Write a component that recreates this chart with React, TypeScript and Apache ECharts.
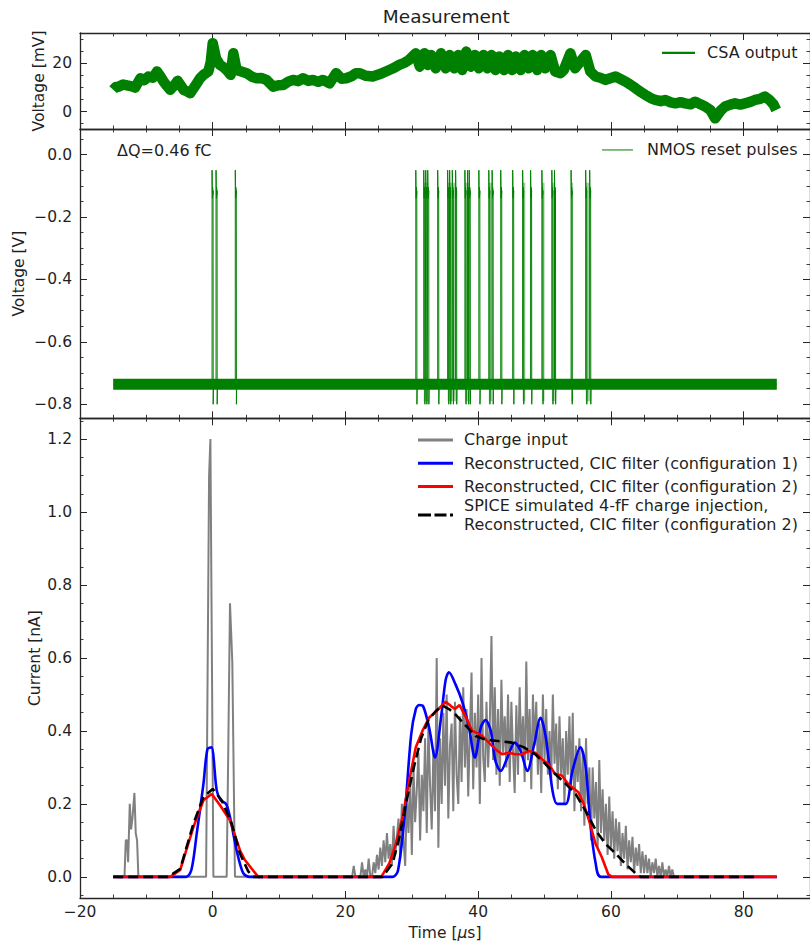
import React, { useEffect, useRef } from "react";
import * as echarts from "echarts";

const GREEN = "#008000";
const AXIS = "#262626";
const TEXT = "#1f1f1f";
const FONT = "DejaVu Sans";

// ---- tick values ----
const timeTicks = [-20, 0, 20, 40, 60, 80];
const timeMinorTicks = [-15, -10, -5, 5, 10, 15, 25, 30, 35, 45, 50, 55, 65, 70, 75, 85];
const csaTicks = [0, 20];
const csaMinorTicks = [-5, 5, 10, 15, 25, 30];
const nmosTicks = [0, -0.2, -0.4, -0.6, -0.8];
const nmosMinorTicks = [0.05, -0.05, -0.1, -0.15, -0.25, -0.3, -0.35, -0.45, -0.5, -0.55, -0.65, -0.7, -0.75];
const currentTicks = [0, 0.2, 0.4, 0.6, 0.8, 1.0, 1.2];
const currentMinorTicks = [-0.05, 0.05, 0.1, 0.15, 0.25, 0.3, 0.35, 0.45, 0.5, 0.55, 0.65, 0.7, 0.75, 0.85, 0.9, 0.95, 1.05, 1.1, 1.15, 1.25];

// ---- CSA output [time µs, mV] (centre of the noise band) ----
const csaOutput: [number, number][] = [
  [-15.0, 9.0], [-14.6, 10.2], [-14.2, 10.3], [-13.5, 11.2], [-12.9, 10.8], [-12.2, 10.4], [-11.7, 9.9],
  [-10.9, 13.8], [-10.3, 13.0], [-9.7, 14.5], [-9.0, 14.0], [-8.4, 16.6], [-7.9, 14.6], [-7.4, 12.4],
  [-6.9, 10.6], [-6.4, 9.0], [-5.8, 10.8], [-5.3, 12.7], [-4.8, 10.8], [-4.4, 9.0], [-3.9, 8.4],
  [-3.4, 7.6], [-2.9, 9.6], [-2.4, 11.7], [-1.9, 13.8], [-1.4, 15.2], [-0.66, 16.6], [-0.3, 20.5],
  [0.0, 28.3], [0.5, 22.0], [1.1, 19.3], [1.6, 18.4], [2.1, 17.2], [2.7, 15.2], [3.1, 24.1], [3.6, 17.2],
  [4.3, 16.6], [5.1, 15.9], [5.9, 14.4], [6.6, 13.8], [7.3, 13.9], [8.1, 13.1], [9.1, 10.3], [9.9, 10.9],
  [10.6, 11.0], [11.4, 12.4], [12.1, 13.1], [12.9, 12.6], [13.6, 13.8], [14.4, 12.7], [15.1, 13.1],
  [15.9, 12.3], [16.6, 13.1], [17.6, 11.7], [18.6, 15.9], [19.4, 13.6], [20.1, 13.8], [20.9, 14.6],
  [21.6, 15.9], [22.1, 15.9], [23.1, 14.8], [24.1, 14.5], [25.1, 15.4], [26.1, 16.6], [27.1, 17.8],
  [28.1, 19.3], [28.9, 20.2], [29.6, 21.4], [30.6, 24.1], [31.2, 18.6], [31.9, 24.1], [32.4, 19.3],
  [32.9, 23.4], [33.6, 17.9], [34.4, 24.1], [35.1, 17.9], [35.7, 23.4], [36.4, 17.9], [37.0, 23.4],
  [37.6, 17.2], [38.2, 24.8], [38.9, 18.6], [39.5, 23.4], [40.1, 17.9], [40.8, 23.4], [41.4, 17.9],
  [42.0, 23.4], [42.6, 17.2], [43.2, 22.8], [43.9, 17.2], [44.5, 23.4], [45.1, 17.2], [45.7, 22.8],
  [46.4, 17.2], [47.0, 23.4], [47.6, 17.9], [48.2, 23.4], [48.9, 17.2], [49.5, 23.4], [50.1, 17.9],
  [50.9, 23.4], [51.6, 16.6], [52.4, 15.9], [52.9, 17.2], [53.9, 24.1], [54.6, 17.9], [55.4, 20.7],
  [56.2, 23.4], [56.9, 16.6], [57.7, 14.5], [58.4, 14.0], [59.2, 13.1], [59.9, 13.8], [60.7, 14.5],
  [61.5, 13.4], [62.2, 12.4], [62.9, 11.2], [63.7, 9.7], [64.5, 8.1], [65.2, 6.9], [66.0, 5.6],
  [66.7, 4.8], [67.5, 4.3], [68.2, 4.8], [69.0, 3.8], [69.7, 3.4], [70.5, 3.9], [71.2, 3.4], [72.0, 3.0],
  [72.7, 4.1], [73.5, 3.0], [74.2, 2.1], [75.0, 0.6], [75.7, -2.8], [76.5, 0.3], [77.2, 2.1], [78.0, 2.9],
  [78.7, 3.4], [79.5, 2.9], [80.2, 3.4], [81.0, 4.0], [81.7, 4.8], [82.5, 5.3], [83.2, 6.2], [83.9, 4.8],
  [84.5, 3.0], [84.9, 0.7],
];

// ---- NMOS reset pulses ----
const nmosBaseline: [number, number][] = [[-15, -0.736], [85, -0.736]];
const pulseTimes = [-0.1, 0.5, 3.4, 30.6, 31.8, 32.1, 32.4, 33.9, 35.4, 35.7, 36.1, 36.6, 38.0, 38.4, 38.65,
  40.1, 41.6, 42.1, 43.4, 45.2, 46.7, 47.9, 49.6, 51.1, 51.5, 54.0, 56.2, 56.8];
const pulsePeak = -0.05;
const pulsePlateau = [-0.1, -0.14, -0.105, -0.13, -0.115];
const pulseUndershoot = -0.8;
// [start µs, upper V, end µs, lower V] of the densely switching stretches (pale fill)
const pulseDenseBands: [number, number, number, number][] = [
  [31.8, -0.09, 32.45, -0.79], [35.4, -0.09, 36.65, -0.79], [38.0, -0.09, 38.7, -0.79],
  [41.6, -0.09, 42.15, -0.79], [46.7, -0.09, 47.1, -0.79], [49.6, -0.09, 50.0, -0.79],
  [51.1, -0.09, 51.55, -0.79], [54.0, -0.09, 54.3, -0.79], [56.2, -0.09, 56.85, -0.79],
];

// ---- bottom panel: currents [time µs, nA] ----
const chargeInputEarly: [number, number][] = [
  [-15, 0], [-13.3, 0], [-13.1, 0.1], [-12.9, 0.1], [-12.75, 0.04], [-12.5, 0.2], [-12.3, 0.13],
  [-12.1, 0.16], [-11.8, 0.23], [-11.6, 0.12], [-11.4, 0.1], [-11.2, 0], [-1.0, 0], [-0.55, 1.1],
  [-0.35, 1.2], [0.1, 0], [2.1, 0], [2.35, 0.36], [2.6, 0.75], [2.95, 0.59], [3.35, 0], [20.75, 0],
];
const chargeInputBurstStart = 21;
const chargeInputBurstStep = 0.25;
const chargeInputBurst = [
  0, 0.03, 0, 0, 0, 0, 0.04, 0, 0.02, 0, 0.05, 0, 0, 0.04, 0.01, 0.06,
  0.02, 0.08, 0.03, 0.1, 0.04, 0.12, 0.05, 0.09, 0.03, 0.14, 0.06, 0.11, 0.16, 0.05, 0.2, 0.1,
  0.03, 0.22, 0.12, 0.27, 0.06, 0.3, 0.15, 0.24, 0.34, 0.1, 0.28, 0.18, 0.38, 0.12, 0.42, 0.25,
  0.13, 0.35, 0.18, 0.6, 0.08, 0.38, 0.2, 0.45, 0.25, 0.5, 0.16, 0.36, 0.42, 0.18, 0.48, 0.28,
  0.2, 0.44, 0.26, 0.52, 0.3, 0.46, 0.22, 0.4, 0.56, 0.24, 0.45, 0.3, 0.5, 0.2, 0.6, 0.33,
  0.26, 0.48, 0.3, 0.42, 0.66, 0.32, 0.52, 0.28, 0.46, 0.25, 0.54, 0.34, 0.44, 0.3, 0.5, 0.26,
  0.48, 0.34, 0.23, 0.47, 0.28, 0.52, 0.33, 0.44, 0.26, 0.59, 0.32, 0.46, 0.24, 0.5, 0.36, 0.48,
  0.28, 0.42, 0.23, 0.5, 0.32, 0.46, 0.28, 0.4, 0.26, 0.5, 0.31, 0.42, 0.24, 0.44, 0.28, 0.38,
  0.2, 0.4, 0.28, 0.44, 0.24, 0.45, 0.18, 0.36, 0.26, 0.38, 0.18, 0.34, 0.14, 0.38, 0.2, 0.3,
  0.1, 0.3, 0.16, 0.26, 0.08, 0.32, 0.12, 0.24, 0.1, 0.2, 0.06, 0.22, 0.08, 0.18, 0.05, 0.16,
  0.07, 0.15, 0.03, 0.12, 0.05, 0.14, 0.02, 0.1, 0.04, 0.11, 0.01, 0.08, 0.03, 0.09, 0.01, 0.07,
  0.01, 0.06, 0.01, 0.05, 0, 0.04, 0.01, 0.05, 0, 0.03, 0, 0.04, 0, 0.02, 0, 0.03,
  0, 0.02, 0, 0, 0,
];
const chargeInputLate: [number, number][] = [[85, 0]];

const cicConfig1: [number, number][] = [
  [-15, 0], [-4.0, 0], [-3.2, 0.02], [-2.4, 0.12], [-1.4, 0.255], [-0.8, 0.35], [-0.2, 0.355], [0.6, 0.237],
  [1.2, 0.21], [2.0, 0.2], [2.6, 0.164], [3.6, 0.073], [4.6, 0.01], [5.6, 0], [27.1, 0], [27.9, 0.016],
  [28.9, 0.164], [29.9, 0.39], [30.6, 0.46], [31.1, 0.471], [31.7, 0.468], [32.6, 0.41], [33.5, 0.327],
  [34.4, 0.436], [35.1, 0.54], [35.6, 0.561], [36.6, 0.527], [37.6, 0.48], [38.6, 0.41], [39.5, 0.327],
  [40.4, 0.41], [41.1, 0.43], [41.9, 0.4], [42.6, 0.318], [43.4, 0.29], [44.4, 0.327], [45.5, 0.368],
  [46.4, 0.345], [47.4, 0.29], [48.4, 0.36], [49.4, 0.436], [50.2, 0.381], [51.2, 0.236], [51.9, 0.2],
  [53.2, 0.2], [54.2, 0.29], [55.4, 0.355], [56.2, 0.3], [56.9, 0.146], [57.7, 0.037], [58.5, 0], [85, 0],
];
const cicConfig2: [number, number][] = [
  [-15, 0], [-6.4, 0], [-4.9, 0.019], [-2.9, 0.137], [-1.4, 0.21], [-0.15, 0.227], [1.1, 0.196],
  [2.6, 0.155], [4.1, 0.073], [4.85, 0.046], [6.85, 0], [25.4, 0], [26.6, 0.037], [27.6, 0.09],
  [28.6, 0.164], [29.6, 0.263], [30.6, 0.355], [31.6, 0.4], [32.6, 0.436], [33.9, 0.458], [35.1, 0.48],
  [35.9, 0.468], [36.5, 0.46], [37.2, 0.471], [38.2, 0.436], [39.1, 0.4], [40.4, 0.39], [41.6, 0.368],
  [42.6, 0.35], [43.6, 0.336], [44.6, 0.34], [45.6, 0.336], [46.6, 0.336], [47.6, 0.345], [48.6, 0.34],
  [49.9, 0.318], [50.6, 0.309], [51.6, 0.282], [52.6, 0.278], [53.6, 0.254], [55.1, 0.232], [55.9, 0.2],
  [56.7, 0.155], [57.7, 0.09], [58.6, 0.055], [59.6, 0.007], [60.2, 0], [85, 0],
];
const spiceSimulated: [number, number][] = [
  [-15, 0], [-6.7, 0], [-4.9, 0.022], [-2.9, 0.146], [-1.4, 0.219], [0, 0.241], [1.35, 0.21],
  [2.85, 0.146], [4.1, 0.064], [5.35, 0.015], [6.1, 0], [25.6, 0], [27.1, 0.037], [28.1, 0.107],
  [29.1, 0.2], [30.3, 0.3], [31.4, 0.38], [32.5, 0.43], [33.6, 0.454], [34.6, 0.47], [35.6, 0.46],
  [36.6, 0.445], [38.1, 0.415], [39.6, 0.386], [41.1, 0.376], [42.6, 0.373], [45.1, 0.368],
  [46.9, 0.355], [48.6, 0.336], [50.1, 0.31], [51.6, 0.282], [53.2, 0.255], [54.7, 0.227],
  [56.2, 0.18], [57.7, 0.128], [59.2, 0.09], [60.7, 0.064], [62.2, 0.035], [63.7, 0.01], [64.5, 0],
  [82, 0],
];

const SPICE_NAME = "SPICE simulated 4-fF charge injection,\nReconstructed, CIC filter (configuration 2)";

const minus = (v: number, d: number) => (v < -1e-9 ? "\u2212" : "") + Math.abs(v).toFixed(d);

const GRID_LEFT = 80;
const GRID_WIDTH = 732.6;

function buildPulses(): [number, number][] {
  const base = nmosBaseline[0][1];
  const out: [number, number][] = [[-15, base]];
  pulseTimes.forEach((t) => {
    out.push([t, base]);
    out.push([t, pulsePeak]);
    pulsePlateau.forEach((v, i) => out.push([t + 0.03 * (i + 1), v]));
    out.push([t + 0.17, pulseUndershoot]);
    out.push([t + 0.22, base]);
  });
  out.push([85, base]);
  return out;
}

function buildChargeInput(): [number, number][] {
  const burst = chargeInputBurst.map((v, i) => [chargeInputBurstStart + i * chargeInputBurstStep, v] as [number, number]);
  return [...chargeInputEarly, ...burst, ...chargeInputLate];
}

const labelStyle = { color: TEXT, fontSize: 15.5, fontFamily: FONT };

function xAxesFor(grid: number, withLabels: boolean) {
  const common: any = { type: "value", gridIndex: grid, min: -20, max: 90, splitLine: { show: false } };
  const major = (pos: string) => ({
    ...common,
    position: pos,
    axisLine: { show: true, onZero: false, lineStyle: { color: AXIS, width: 1.3 } },
    axisTick: { show: true, inside: true, length: 7, customValues: timeTicks, lineStyle: { color: AXIS, width: 1 } },
    axisLabel: {
      show: withLabels && pos === "bottom",
      customValues: timeTicks,
      margin: 6,
      formatter: (v: number) => minus(v, 0),
      ...labelStyle,
    },
    ...(withLabels && pos === "bottom"
      ? {
          name: "Time [{i|μ}s]",
          nameLocation: "middle",
          nameGap: 27,
          nameMoveOverlap: false,
          nameTextStyle: { ...labelStyle, rich: { i: { ...labelStyle, fontStyle: "italic" } } },
        }
      : {}),
  });
  const minor = (pos: string) => ({
    ...common,
    position: pos,
    axisLine: { show: false, onZero: false },
    axisTick: { show: true, inside: true, length: 3.5, customValues: timeMinorTicks, lineStyle: { color: AXIS, width: 0.9 } },
    axisLabel: { show: false },
  });
  return [major("bottom"), minor("bottom"), major("top"), minor("top")];
}

function yAxesFor(grid: number, min: number, max: number, ticks: number[], minorTicks: number[], decimals: number, name: string, nameGap: number) {
  const common: any = { type: "value", gridIndex: grid, min, max, splitLine: { show: false } };
  const major = (pos: string) => ({
    ...common,
    position: pos,
    axisLine: { show: true, onZero: false, lineStyle: { color: AXIS, width: 1.3 } },
    axisTick: { show: true, inside: true, length: 7, customValues: ticks, lineStyle: { color: AXIS, width: 1 } },
    axisLabel: {
      show: pos === "left",
      customValues: ticks,
      margin: 8,
      formatter: (v: number) => minus(v, decimals),
      ...labelStyle,
    },
    ...(pos === "left"
      ? { name, nameLocation: "middle", nameGap, nameMoveOverlap: false, nameTextStyle: labelStyle }
      : {}),
  });
  const minor = (pos: string) => ({
    ...common,
    position: pos,
    axisLine: { show: false, onZero: false },
    axisTick: { show: true, inside: true, length: 3.5, customValues: minorTicks, lineStyle: { color: AXIS, width: 0.9 } },
    axisLabel: { show: false },
  });
  return [major("left"), minor("left"), major("right"), minor("right")];
}

const legendText = (extra: any = {}) => ({ color: TEXT, fontSize: 16, fontFamily: FONT, lineHeight: 18.7, ...extra });

export default function App() {
  const ref = useRef<HTMLDivElement>(null);
  useEffect(() => {
    if (!ref.current) return;
    const chart = echarts.init(ref.current, undefined, { renderer: "svg" });
    const option: any = {
      animation: false,
      backgroundColor: "#ffffff",
      grid: [
        { left: GRID_LEFT, top: 33, width: GRID_WIDTH, height: 96 },
        { left: GRID_LEFT, top: 129, width: GRID_WIDTH, height: 289.3 },
        { left: GRID_LEFT, top: 418.3, width: GRID_WIDTH, height: 483.4 },
      ],
      xAxis: [...xAxesFor(0, false), ...xAxesFor(1, false), ...xAxesFor(2, true)],
      yAxis: [
        ...yAxesFor(0, -7.2, 32.5, csaTicks, csaMinorTicks, 0, "Voltage [mV]", 32.7),
        ...yAxesFor(1, -0.845, 0.082, nmosTicks, nmosMinorTicks, 1, "Voltage [V]", 53),
        ...yAxesFor(2, -0.058, 1.257, currentTicks, currentMinorTicks, 1, "Current [nA]", 36.7),
      ],
      legend: [
        {
          data: [{ name: "CSA output", icon: "rect" }],
          left: 662, top: 43.6, orient: "vertical", padding: 0, itemWidth: 33, itemHeight: 2.2,
          selectedMode: false, textStyle: legendText({ padding: [0, 0, 0, 7] }),
        },
        {
          data: [{ name: "NMOS reset pulses", icon: "rect" }],
          left: 602, top: 140.6, orient: "vertical", padding: 0, itemWidth: 31, itemHeight: 1,
          selectedMode: false, textStyle: legendText({ padding: [0, 0, 0, 9] }),
        },
        {
          data: [
            { name: "Charge input", icon: "rect" },
            { name: "Reconstructed, CIC filter (configuration 1)", icon: "rect" },
            { name: "Reconstructed, CIC filter (configuration 2)", icon: "rect" },
          ],
          left: 418, top: 430.6, orient: "vertical", padding: 0, itemWidth: 35, itemHeight: 3, itemGap: 4.6,
          selectedMode: false, textStyle: legendText({ padding: [0, 0, 0, 6] }),
        },
        {
          data: [{ name: SPICE_NAME, icon: "path://M0,0h13v3h-13z M16.5,0h12v3h-12z M32,0h3v3h-3z" }],
          left: 418, top: 496.3, orient: "vertical", padding: 0, itemWidth: 35, itemHeight: 3,
          selectedMode: false, textStyle: legendText({ padding: [0, 0, 0, 6] }),
        },
      ],
      graphic: [
        {
          type: "text", x: 446.3, y: 16,
          style: { text: "Measurement", fontSize: 18.5, fontFamily: FONT, fill: TEXT, align: "center", verticalAlign: "middle" },
        },
        {
          type: "text", x: 117, y: 150,
          style: { text: "ΔQ=0.46 fC", fontSize: 16, fontFamily: FONT, fill: TEXT, align: "left", verticalAlign: "middle" },
        },
      ],
      series: [
        {
          type: "line", name: "CSA output", xAxisIndex: 0, yAxisIndex: 0, data: csaOutput, symbol: "none",
          lineStyle: { color: GREEN, width: 10.5, join: "round", cap: "butt" }, itemStyle: { color: GREEN }, silent: true,
        },
        {
          type: "custom", name: "NMOS dense switching", coordinateSystem: "cartesian2d",
          xAxisIndex: 4, yAxisIndex: 4, data: pulseDenseBands, silent: true, z: 1,
          renderItem: (_p: any, api: any) => {
            const a = api.coord([api.value(0), api.value(1)]);
            const b = api.coord([api.value(2), api.value(3)]);
            return {
              type: "rect",
              shape: { x: a[0], y: a[1], width: Math.max(1, b[0] - a[0]), height: b[1] - a[1] },
              style: { fill: "rgba(0,128,0,0.38)" },
            };
          },
        },
        {
          type: "line", name: "NMOS baseline", xAxisIndex: 4, yAxisIndex: 4, data: nmosBaseline, symbol: "none",
          lineStyle: { color: GREEN, width: 11 }, itemStyle: { color: GREEN }, silent: true, z: 2,
        },
        {
          type: "line", name: "NMOS reset pulses", xAxisIndex: 4, yAxisIndex: 4, data: buildPulses(), symbol: "none",
          lineStyle: { color: GREEN, width: 1 }, itemStyle: { color: GREEN }, silent: true, z: 3,
        },
        {
          type: "line", name: "Charge input", xAxisIndex: 8, yAxisIndex: 8, data: buildChargeInput(), symbol: "none",
          lineStyle: { color: "#808080", width: 2 }, itemStyle: { color: "#808080" }, silent: true,
        },
        {
          type: "line", name: "Reconstructed, CIC filter (configuration 1)", xAxisIndex: 8, yAxisIndex: 8,
          data: cicConfig1, symbol: "none", smooth: 0.3,
          lineStyle: { color: "#0000ff", width: 2.6 }, itemStyle: { color: "#0000ff" }, silent: true,
        },
        {
          type: "line", name: "Reconstructed, CIC filter (configuration 2)", xAxisIndex: 8, yAxisIndex: 8,
          data: cicConfig2, symbol: "none",
          lineStyle: { color: "#ff0000", width: 2.6 }, itemStyle: { color: "#ff0000" }, silent: true,
        },
        {
          type: "line", name: SPICE_NAME, xAxisIndex: 8, yAxisIndex: 8, data: spiceSimulated, symbol: "none",
          lineStyle: { color: "#000000", width: 2.6, type: [10, 5] }, itemStyle: { color: "#000000" }, silent: true,
        },
      ],
    };
    chart.setOption(option);
    return () => chart.dispose();
  }, []);
  return (
    <div
      ref={ref}
      style={{ position: "fixed", left: 0, top: 0, width: 810, height: 946, background: "#fff" }}
    />
  );
}
